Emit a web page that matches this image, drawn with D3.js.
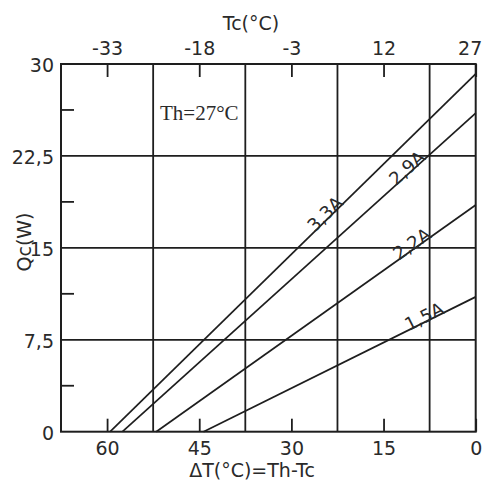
<!DOCTYPE html>
<html>
<head>
<meta charset="utf-8">
<script src="https://cdn.jsdelivr.net/npm/d3@7"></script>
<style>
  body { margin: 0; background: #fff; }
  svg text { font-family: "DejaVu Sans", sans-serif; fill: #2a2a2a; }
</style>
</head>
<body>
<div id="chart"></div>
<script>
var width = 483;
var height = 481;

// axis ticks
var dtTicks = [60, 45, 30, 15, 0];          // bottom, ΔT (°C)
var tcTicks = [-33, -18, -3, 12, 27];       // top, Tc (°C)
var qcTicks = [0, 7.5, 15, 22.5, 30];       // left, Qc (W)
var dtGrid = [52.5, 37.5, 22.5, 7.5];       // vertical grid lines
var qcMinor = [3.75, 11.25, 18.75, 26.25];  // small left ticks
var th = 27;

// performance lines: Qc = 0 at dtZero, Qc = qcZero at ΔT = 0
var currents = ["3,3A", "2,9A", "2,2A", "1,5A"];
var dtZero = [59.5, 57.5, 52, 44.3];
var qcZero = [29.2, 26.0, 18.5, 11.0];
var labelDt = [26.3, 13.1, 12.6, 11.0];

// plot box (window.top is reserved, so prefixed names)
var pLeft = 61, pRight = 475.7, pTop = 64, pBottom = 431.7;
var ink = "#1e1e1e";

var svg = d3.select("#chart")
    .append("svg")
    .attr("width", width)
    .attr("height", height)

var x = d3.scaleLinear().domain([67.5, 0]).range([pLeft, pRight]);
var xTop = d3.scaleLinear().domain([th - 67.5, th]).range([pLeft, pRight]);
var y = d3.scaleLinear().domain([0, 30]).range([pBottom, pTop]);

// comma decimals, plain hyphen for negatives
var loc = d3.formatLocale({decimal: ",", thousands: ".", grouping: [3], currency: ["", ""], minus: "-"});
var fmt = loc.format("");

// grid
svg.append("g").selectAll("line").data(dtGrid)
    .enter().append("line")
    .attr("x1", d => x(d)).attr("x2", d => x(d))
    .attr("y1", pTop).attr("y2", pBottom)
    .attr("stroke", ink).attr("stroke-width", 1.8)

svg.append("g").selectAll("line").data(qcTicks.slice(1, -1))
    .enter().append("line")
    .attr("x1", pLeft).attr("x2", pRight)
    .attr("y1", d => y(d)).attr("y2", d => y(d))
    .attr("stroke", ink).attr("stroke-width", 1.8)

// axes (ticks inside the frame)
function styleAxis(g) {
    g.select(".domain").remove();
    g.selectAll(".tick line").attr("stroke", ink).attr("stroke-width", 1.8);
    g.selectAll(".tick text").attr("font-size", 19).attr("fill", "#2a2a2a")
        .attr("font-family", "DejaVu Sans, sans-serif");
}

svg.append("g")
    .attr("transform", "translate(0," + pBottom + ")")
    .call(d3.axisBottom(x).tickValues(dtTicks).tickFormat(fmt).tickSize(-13))
    .call(styleAxis)
    .call(g => g.selectAll(".tick text").attr("y", 23).attr("dy", 0))

svg.append("g")
    .attr("transform", "translate(0," + pTop + ")")
    .call(d3.axisTop(xTop).tickValues(tcTicks).tickFormat(fmt).tickSize(-13))
    .call(styleAxis)
    .call(g => g.selectAll(".tick text").attr("y", -9).attr("dy", 0))
    .call(g => g.selectAll(".tick text").filter(d => d === th).attr("dx", -6))

svg.append("g")
    .attr("transform", "translate(" + pLeft + ",0)")
    .call(d3.axisLeft(y).tickValues(qcTicks).tickFormat(fmt).tickSize(0).tickPadding(7))
    .call(styleAxis)
    .call(g => g.selectAll(".tick text").attr("dy", "0.42em"))

svg.append("g").selectAll("line").data(qcMinor)
    .enter().append("line")
    .attr("x1", pLeft).attr("x2", pLeft + 13)
    .attr("y1", d => y(d)).attr("y2", d => y(d))
    .attr("stroke", ink).attr("stroke-width", 1.8)

// frame
svg.append("rect")
    .attr("x", pLeft).attr("y", pTop)
    .attr("width", pRight - pLeft).attr("height", pBottom - pTop)
    .attr("fill", "none").attr("stroke", ink).attr("stroke-width", 2)

// performance lines
var lines = svg.append("g")
currents.forEach(function(name, i) {
    var p0 = [x(dtZero[i]), y(0)];
    var p1 = [x(0), y(qcZero[i])];
    lines.append("line")
        .attr("x1", p0[0]).attr("y1", p0[1])
        .attr("x2", p1[0]).attr("y2", p1[1])
        .attr("stroke", ink).attr("stroke-width", 1.7)

    var ang = Math.atan2(p1[1] - p0[1], p1[0] - p0[0]) * 180 / Math.PI;
    var q = qcZero[i] * (1 - labelDt[i] / dtZero[i]);
    lines.append("text")
        .attr("transform", "translate(" + x(labelDt[i]) + "," + y(q) + ") rotate(" + ang + ")")
        .attr("dy", 1)
        .attr("font-size", 18)
        .text(name)
})

// titles
svg.append("text")
    .attr("x", 251).attr("y", 30)
    .attr("text-anchor", "middle").attr("font-size", 19)
    .text("Tc(°C)")

svg.append("text")
    .attr("x", 252).attr("y", 477)
    .attr("text-anchor", "middle").attr("font-size", 19)
    .text("ΔT(°C)=Th-Tc")

svg.append("text")
    .attr("transform", "translate(31,242) rotate(-90)")
    .attr("text-anchor", "middle").attr("font-size", 19)
    .text("Qc(W)")

svg.append("text")
    .attr("x", 160).attr("y", 120)
    .style("font-family", "Liberation Serif, serif")
    .attr("font-size", 21)
    .text("Th=" + th + "°C")
</script>
</body>
</html>
